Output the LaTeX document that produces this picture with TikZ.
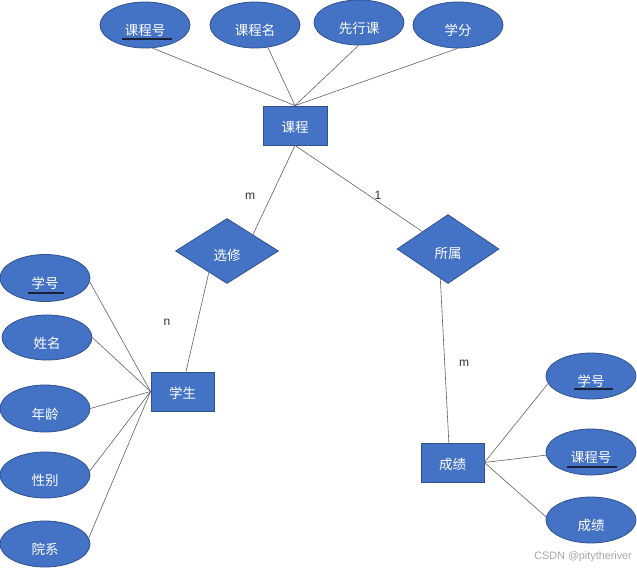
\documentclass[tikz,border=0pt]{standalone}
\usepackage{fontspec}
\setmainfont{Liberation Sans}
\newfontfamily\cjk{Noto Sans CJK SC}
\usetikzlibrary{shapes.geometric,calc}
\definecolor{fillblue}{HTML}{4472C4}
\definecolor{edgeblue}{HTML}{2F528F}
\definecolor{ulcol}{HTML}{1A2238}
\begin{document}
\begin{tikzpicture}[x=1pt,y=-1pt,
 cjkfont/.style={font=\cjk\fontsize{13.5}{15}\selectfont},
 attr/.style={ellipse,draw=edgeblue,fill=fillblue,line width=0.8pt,minimum width=90pt,minimum height=46pt,inner sep=0pt,text=white,cjkfont,text height=22pt,text depth=0.4pt},
 ent/.style={rectangle,draw=edgeblue,fill=fillblue,line width=0.8pt,minimum width=63pt,minimum height=39pt,inner sep=0pt,text=white,cjkfont,text height=14.5pt,text depth=0.5pt},
 rel/.style={diamond,draw=edgeblue,fill=fillblue,line width=0.8pt,minimum width=103pt,minimum height=66pt,inner sep=0pt,text=white,cjkfont,text height=20pt,text depth=0.4pt},
 conn/.style={draw=black!62,line width=0.6pt},
 card/.style={font=\fontsize{12}{14}\selectfont,text=black!80,inner sep=0pt},
 ul/.style={draw=ulcol,line width=1.6pt}
]
\useasboundingbox (0,0) rectangle (637,568);
\fill[white] (0,0) rectangle (637,568);

% entities
\node[ent,minimum width=64pt] (kc) at (295,125.5) {课程};
\node[ent] (stu) at (182.5,391.5) {学生};
\node[ent] (cj) at (452.5,462.5) {成绩};

% relations
\node[rel,minimum height=65pt] (xx) at (227,251) {选修};
\node[rel,minimum width=102pt,minimum height=69pt] (ss) at (448,249) {所属};

% course attributes
\node[attr] (c1) at (145,25) {课程号};
\node[attr] (c2) at (255,25) {课程名};
\node[attr,minimum height=45pt] (c3) at (359,22.5) {先行课};
\node[attr] (c4) at (458,25) {学分};

% student attributes
\node[attr,minimum height=47pt] (s1) at (45,278) {学号};
\node[attr,minimum height=45pt] (s2) at (47,337.5) {姓名};
\node[attr,minimum height=47pt] (s3) at (45,408.5) {年龄};
\node[attr] (s4) at (45,475) {性别};
\node[attr] (s5) at (45,544) {院系};

% score attributes
\node[attr] (r1) at (591,376) {学号};
\node[attr] (r2) at (591,452) {课程号};
\node[attr] (r3) at (591,520) {成绩};

% underlines (keys)
\draw[ul] ([xshift=-23pt,yshift=-14pt]c1.center) -- ([xshift=27pt,yshift=-14pt]c1.center);
\draw[ul] ([xshift=-17pt,yshift=-15pt]s1.center) -- ([xshift=19pt,yshift=-15pt]s1.center);
\draw[ul] ([xshift=-17pt,yshift=-13pt]r1.center) -- ([xshift=22pt,yshift=-13pt]r1.center);
\draw[ul] ([xshift=-24pt,yshift=-15pt]r2.center) -- ([xshift=26pt,yshift=-15pt]r2.center);

% connectors: course attributes
\draw[conn] (c1.-72) -- (kc.north);
\draw[conn] (c2.-60) -- (kc.north);
\draw[conn] (c3.-91) -- (kc.north);
\draw[conn] (c4.-91) -- (kc.north);

% course - relations
\draw[conn] (kc.south) -- ($(xx.north)!0.5!(xx.east)$);
\draw[conn] (kc.south) -- ($(ss.north)!0.5!(ss.west)$);

% relation - entities
\draw[conn] ($(xx.west)!0.65!(xx.south)$) -- ([xshift=3.5pt]stu.north);
\draw[conn] ($(ss.south)!0.15!(ss.west)$) -- ([xshift=-3.5pt,yshift=-3pt]cj.north);

% student attributes
\draw[conn] (s1.-5) -- (stu.west);
\draw[conn] (s2.east) -- (stu.west);
\draw[conn] (s3.east) -- (stu.west);
\draw[conn] (s4.5) -- (stu.west);
\draw[conn] (s5.8) -- (stu.west);

% score attributes
\draw[conn] (cj.east) -- (r1.190);
\draw[conn] (cj.east) -- (r2.184);
\draw[conn] (cj.east) -- (r3.176);

% cardinalities
\node[card] (m1) at (250,196) {m};
\node[card] (o1) at (378,195) {1};
\node[card] (n1) at (167,322) {n};
\node[card] (m2) at (464,363) {m};

% watermark
\node[anchor=east,font=\fontsize{10.8}{12}\selectfont,text=black!35,inner sep=0pt] (wm) at (632,557) {CSDN @pitytheriver};
\end{tikzpicture}
\end{document}
